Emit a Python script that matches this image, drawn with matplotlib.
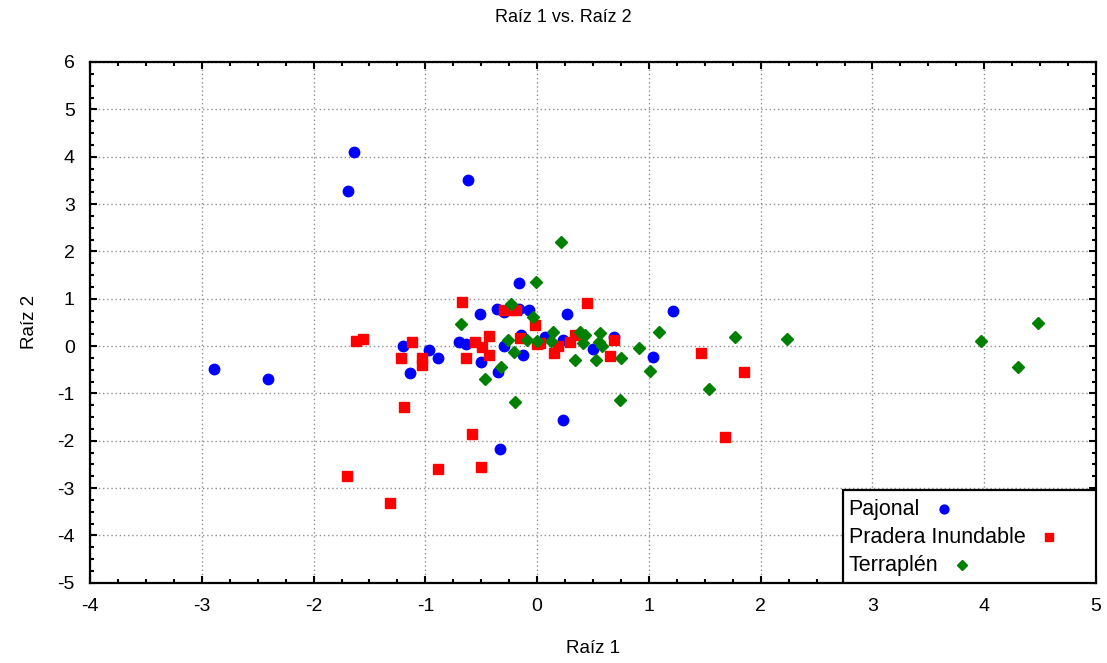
import matplotlib
matplotlib.use('Agg')
import matplotlib.pyplot as plt
from matplotlib.patches import Rectangle
from matplotlib.ticker import MultipleLocator

plt.rcParams['font.family'] = ['Liberation Sans', 'DejaVu Sans']
plt.rcParams['axes.unicode_minus'] = False

# Raíz 1 / Raíz 2 scores per group
pajonal_x = [-1.64, -1.69, -0.62, -2.89, -2.41, 1.22, 1.035, 0.23, -0.33, -0.16,
             0.27, -0.51, -0.355, -0.30, -0.16, -0.07, -1.20, -0.97, -0.89, -1.14,
             -0.70, -0.635, -0.50, -0.35, -0.30, -0.14, -0.13, 0.07, 0.235, 0.50, 0.69]
pajonal_y = [4.10, 3.28, 3.51, -0.49, -0.69, 0.74, -0.225, -1.56, -2.18, 1.34,
             0.67, 0.68, 0.78, 0.71, 0.78, 0.76, 0.0, -0.08, -0.26, -0.58,
             0.09, 0.04, -0.33, -0.54, 0.0, 0.23, -0.19, 0.20, 0.13, -0.07, 0.20]

pradera_x = [-1.70, -1.32, -1.19, -0.89, -0.58, -0.50, 1.68, 1.47, 1.85, -1.62,
             -1.56, -0.67, -1.12, -1.22, -1.03, -1.03, -0.64, -0.555, -0.495, -0.43,
             -0.43, -0.30, -0.23, -0.19, -0.02, -0.15, 0.0, 0.15, 0.445, 0.34,
             0.295, 0.19, 0.03, 0.69, 0.65]
pradera_y = [-2.745, -3.31, -1.28, -2.60, -1.865, -2.56, -1.93, -0.14, -0.54, 0.11,
             0.15, 0.94, 0.09, -0.26, -0.26, -0.40, -0.26, 0.09, -0.03, 0.21,
             -0.19, 0.76, 0.76, 0.76, 0.44, 0.16, 0.04, -0.15, 0.90, 0.23,
             0.09, -0.01, 0.06, 0.13, -0.22]

terraplen_x = [0.21, -0.01, -0.23, -0.04, -0.68, -0.26, -0.21, -0.32, -0.47, -0.20,
               -0.09, 0.0, 0.14, 0.12, 0.385, 0.43, 0.415, 0.56, 0.55, 0.58,
               0.53, 0.34, 0.75, 0.915, 1.01, 1.09, 0.74, 1.54, 1.77, 2.24,
               3.97, 4.30, 4.48]
terraplen_y = [2.20, 1.35, 0.88, 0.61, 0.46, 0.13, -0.12, -0.44, -0.70, -1.18,
               0.13, 0.11, 0.30, 0.11, 0.30, 0.23, 0.06, 0.27, 0.09, -0.01,
               -0.29, -0.29, -0.25, -0.05, -0.53, 0.30, -1.14, -0.91, 0.18, 0.14,
               0.11, -0.44, 0.49]

groups = ['Pajonal', 'Pradera Inundable', 'Terraplén']
colors = ['#0000ff', '#ff0000', '#008000']
markers = ['o', 's', 'D']
sizes = [7.5, 7.5, 6.5]

fig = plt.figure(figsize=(11.07, 6.63), dpi=100)
ax = fig.add_axes([90 / 1107, 1 - 582.7 / 663, 1006 / 1107, 520.7 / 663])

series = [(pajonal_x, pajonal_y), (pradera_x, pradera_y), (terraplen_x, terraplen_y)]
for (xs, ys), c, m, s in zip(series, colors, markers, sizes):
    ax.plot(xs, ys, linestyle='none', marker=m, markersize=s,
            markerfacecolor=c, markeredgecolor=c, zorder=3)

ax.set_xlim(-4, 5)
ax.set_ylim(-5, 6)
ax.xaxis.set_major_locator(MultipleLocator(1))
ax.yaxis.set_major_locator(MultipleLocator(1))
ax.xaxis.set_minor_locator(MultipleLocator(0.25))
ax.yaxis.set_minor_locator(MultipleLocator(0.25))
ax.tick_params(which='both', direction='in', top=True, right=True, width=1.5)
ax.tick_params(which='major', length=5, labelsize=14, pad=11)
ax.tick_params(which='minor', length=3)
ax.grid(True, which='major', linestyle=(0, (1, 2)), color='#909090', linewidth=1)
for sp in ax.spines.values():
    sp.set_linewidth(1.6)

ax.set_xlabel('Raíz 1', fontsize=13.5, labelpad=18)
ax.set_ylabel('Raíz 2', fontsize=13.5, labelpad=14)
fig.text(563 / 1107, 1 - 18 / 663, 'Raíz 1 vs. Raíz 2', ha='center', va='center', fontsize=13)

# legend with the marker after each label
box = Rectangle((0.7485, 0.0), 0.2515, 0.178, transform=ax.transAxes,
                facecolor='white', edgecolor='black', linewidth=1.6, zorder=5)
ax.add_patch(box)
fig.canvas.draw()
renderer = fig.canvas.get_renderer()
rows = [0.1415, 0.0877, 0.0339]
for g, c, m, s, yy in zip(groups, colors, markers, sizes, rows):
    t = ax.text(0.754, yy, g, transform=ax.transAxes, fontsize=15.5,
                ha='left', va='center', zorder=6)
    bb = t.get_window_extent(renderer=renderer)
    xm = ax.transAxes.inverted().transform((bb.x1 + 24, bb.y0))[0]
    ax.plot([xm], [yy], transform=ax.transAxes, linestyle='none', marker=m,
            markersize=s * 0.85, markerfacecolor=c, markeredgecolor=c,
            zorder=6, clip_on=False)

fig.savefig('out.png', dpi=100)
